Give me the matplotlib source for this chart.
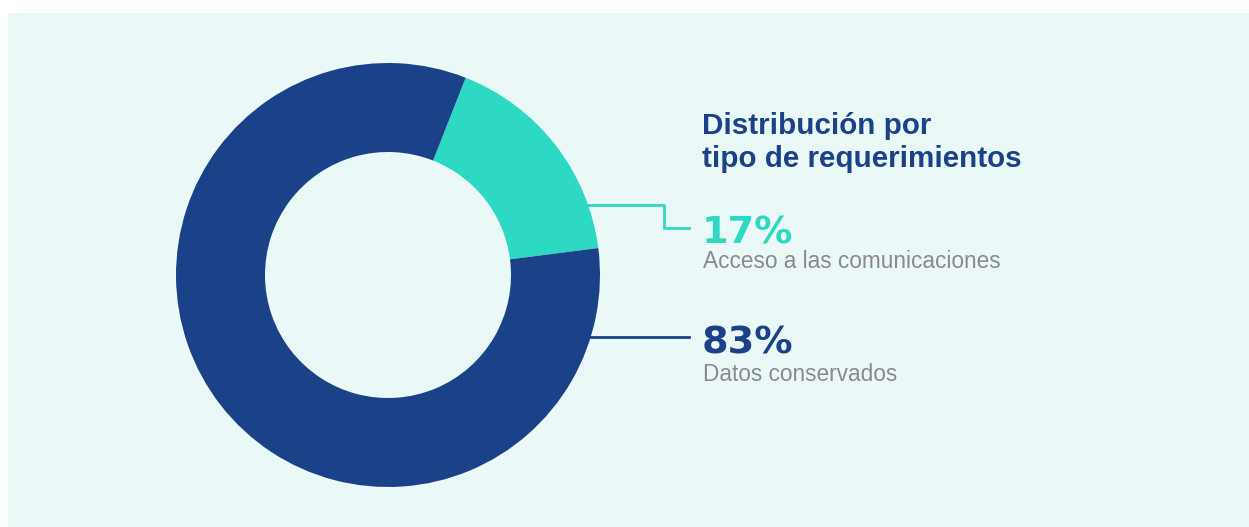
import matplotlib
matplotlib.use("Agg")
import matplotlib.pyplot as plt
from matplotlib.patches import Rectangle
from matplotlib.lines import Line2D

# Datos
categorias = ["Acceso a las comunicaciones", "Datos conservados"]
valores = [17, 83]
colores = ["#2ED9C3", "#1B4289"]
titulo = ["Distribución por", "tipo de requerimientos"]

W, H = 1249, 527
fondo = "#EAF9F8"

def px(x, y):
    # pixel (desde arriba a la izquierda) -> fraccion de figura
    return x / W, 1 - y / H

fig = plt.figure(figsize=(W / 100, H / 100), dpi=100, facecolor="white")
fig.add_artist(Rectangle((8 / W, 0), 1 - 8 / W, 1 - 13 / H,
                         transform=fig.transFigure, facecolor=fondo,
                         edgecolor="none", zorder=0))

# Ejes del donut: centro (388, 275), radio 212 px
cx, cy, r = 388, 275, 212
ax = fig.add_axes([(cx - r) / W, (H - cy - r) / H, 2 * r / W, 2 * r / H])
ax.set_facecolor("none")
ax.pie(valores, colors=colores, startangle=68.5, counterclock=False,
       radius=1, wedgeprops=dict(width=1 - 123 / 212, edgecolor="none"))
ax.set_xlim(-1, 1)
ax.set_ylim(-1, 1)
ax.set_aspect("equal")
ax.axis("off")

# Lineas guia (coordenadas del eje)
def d(x, y):
    return (x - cx) / r, (cy - y) / r

pts = [d(587, 205), d(664, 205), d(664, 228), d(689, 228)]
ax.add_line(Line2D([p[0] for p in pts], [p[1] for p in pts],
                   color=colores[0], lw=2, clip_on=False))
pts = [d(590, 337), d(689, 337)]
ax.add_line(Line2D([p[0] for p in pts], [p[1] for p in pts],
                   color=colores[1], lw=2, clip_on=False))

# Textos
x0 = 702
for linea, yb in zip(titulo, [134, 167]):
    fig.text(*px(x0, yb), linea, color=colores[1], fontsize=21.3,
             fontweight="bold", family="Liberation Sans", va="baseline")
fig.text(*px(x0, 243), f"{valores[0]}%", color=colores[0], fontsize=27.5,
         fontweight="bold", family="DejaVu Sans", va="baseline")
fig.text(*px(x0 + 1, 268), categorias[0], color="#8A8A8A", fontsize=16.3,
         family="Liberation Sans", va="baseline")
fig.text(*px(x0, 353), f"{valores[1]}%", color=colores[1], fontsize=27.5,
         fontweight="bold", family="DejaVu Sans", va="baseline")
fig.text(*px(x0 + 1, 381), categorias[1], color="#8A8A8A", fontsize=16.3,
         family="Liberation Sans", va="baseline")

fig.savefig("out.png", dpi=100, facecolor="white")
